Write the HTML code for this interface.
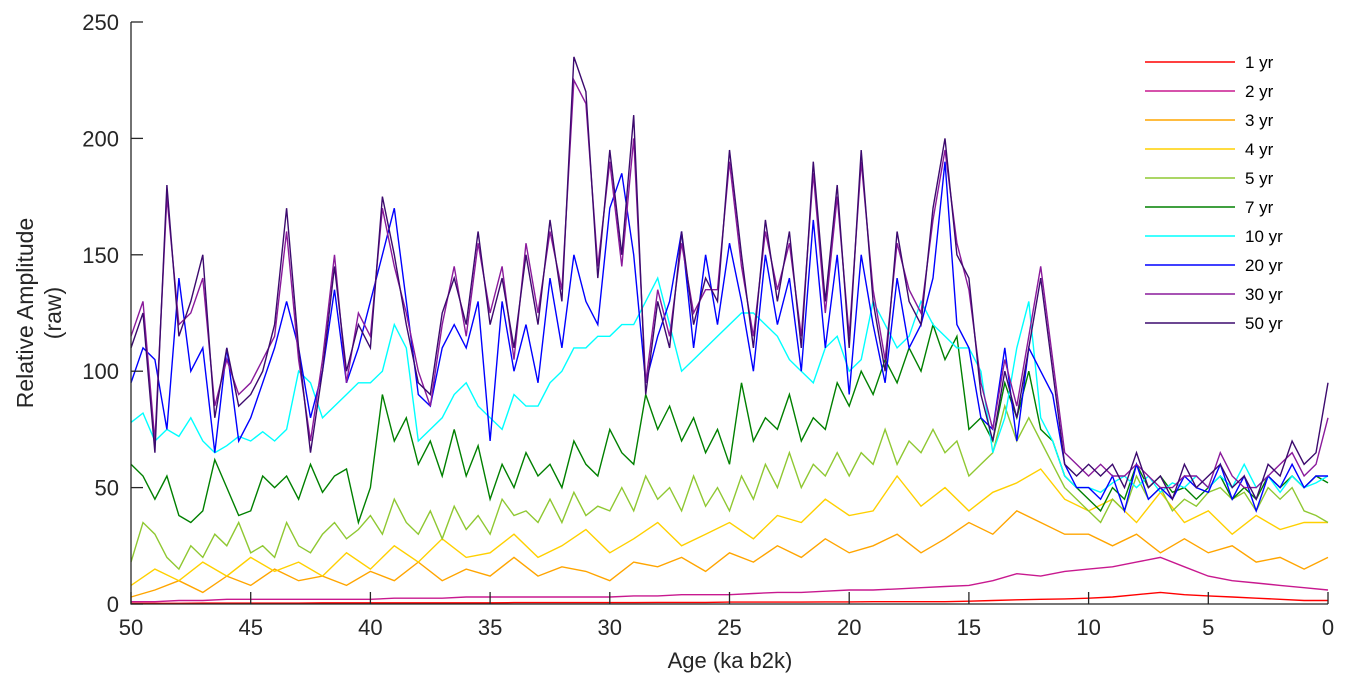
<!DOCTYPE html>
<html><head><meta charset="utf-8"><style>
body{margin:0;background:#fff;}
svg{font-family:"Liberation Sans",Arial,sans-serif;}
</style></head><body>
<svg id="chart" width="1350" height="689"></svg>
<script>
const agesFine=[];for(let i=0;i<=100;i++)agesFine.push(50-0.5*i);
const agesCoarse=[];for(let i=0;i<=50;i++)agesCoarse.push(50-i);
const yr50=[110,125,65,180,115,130,150,80,110,85,90,100,120,170,110,65,100,145,100,120,110,175,150,120,95,90,125,140,120,160,120,140,110,150,120,165,130,235,220,140,195,150,210,90,130,110,160,120,140,130,195,150,110,165,130,160,110,190,130,180,110,195,130,100,160,130,120,170,200,150,140,90,70,100,80,110,140,100,60,55,60,55,60,50,65,50,55,45,60,50,55,60,50,55,45,60,55,70,60,65,95];
const yr30=[115,130,70,175,120,125,140,85,105,90,95,105,115,160,105,70,105,150,95,125,115,170,145,125,100,85,120,145,115,155,125,145,105,155,125,160,135,225,215,145,190,145,200,95,135,115,155,125,135,135,190,145,115,160,135,155,115,185,125,175,115,190,135,105,155,135,125,165,195,155,135,95,75,105,85,115,145,105,65,60,55,60,55,55,60,55,50,50,55,55,50,65,55,50,50,55,60,65,55,60,80];
const yr20=[95,110,105,75,140,100,110,65,110,70,80,95,110,130,110,80,100,135,95,110,130,150,170,130,90,85,110,120,110,130,70,130,100,120,95,140,110,150,130,120,170,185,150,95,115,130,160,110,150,120,155,130,100,150,120,140,100,165,110,150,90,150,120,95,140,110,120,140,190,120,110,80,75,110,70,110,100,90,60,50,50,45,55,40,60,45,50,45,55,50,48,60,45,55,40,55,50,60,50,55,55];
const yr10=[78,82,70,75,72,80,70,65,68,72,70,74,70,75,100,95,80,85,90,95,95,100,120,110,70,75,80,90,95,85,80,75,90,85,85,95,100,110,110,115,115,120,120,130,140,120,100,105,110,115,120,125,125,120,115,105,100,95,110,115,100,105,130,120,110,115,130,120,115,110,110,100,65,80,110,130,80,70,55,50,50,48,52,55,50,55,48,52,50,55,50,55,50,60,50,55,48,55,50,52,55];
const yr7=[60,55,45,55,38,35,40,62,50,38,40,55,50,55,45,60,48,55,58,35,50,90,70,80,60,70,55,75,55,68,45,60,50,65,55,60,50,70,60,55,75,65,60,90,75,85,70,80,65,75,60,95,70,80,75,90,70,80,75,95,85,100,90,105,95,110,100,120,105,115,75,80,70,95,80,100,75,70,55,50,45,40,50,45,60,50,55,48,50,45,50,55,45,50,45,55,50,55,50,55,52];
const yr5=[18,35,30,20,15,25,20,30,25,35,22,25,20,35,25,22,30,35,28,32,38,30,45,35,30,40,28,42,32,38,30,45,38,40,35,45,35,48,38,42,40,50,40,55,45,50,40,55,42,50,40,55,45,60,50,65,50,60,55,65,55,65,60,75,60,70,65,75,65,70,55,60,65,85,70,80,70,60,50,45,40,35,45,40,55,45,50,40,45,42,48,50,45,48,40,50,45,50,40,38,35];
const yr4=[8,15,10,18,12,20,14,18,12,22,15,25,18,28,20,22,30,20,25,32,22,28,35,25,30,35,28,38,35,45,38,40,55,42,50,40,48,52,58,45,40,45,35,48,35,40,30,38,32,35,35];
const yr3=[3,6,10,5,12,8,15,10,12,8,14,10,18,10,15,12,20,12,16,14,10,18,16,20,14,22,18,25,20,28,22,25,30,22,28,35,30,40,35,30,30,25,30,22,28,22,25,18,20,15,20];
const yr2=[1,1,1.5,1.5,2,2,2,2,2,2,2,2.5,2.5,2.5,3,3,3,3,3,3,3,3.5,3.5,4,4,4,4.5,5,5,5.5,6,6,6.5,7,7.5,8,10,13,12,14,15,16,18,20,16,12,10,9,8,7,6];
const yr1=[0.3,0.3,0.3,0.4,0.4,0.4,0.4,0.4,0.5,0.5,0.5,0.5,0.5,0.5,0.5,0.5,0.6,0.6,0.6,0.6,0.6,0.6,0.7,0.7,0.7,0.8,0.8,0.8,0.8,0.9,0.9,1,1,1,1,1.2,1.5,1.8,2,2.2,2.5,3,4,5,4,3.5,3,2.5,2,1.5,1.5];
const seriesNames=["1 yr","2 yr","3 yr","4 yr","5 yr","7 yr","10 yr","20 yr","30 yr","50 yr"];
const seriesColors=["#ff0000","#c8198f","#ffa500","#ffd000","#8fc832","#008000","#00ffff","#0000ff","#8a1a9b","#3c0a6e"];
const seriesData=[[agesCoarse,yr1],[agesCoarse,yr2],[agesCoarse,yr3],[agesCoarse,yr4],[agesFine,yr5],[agesFine,yr7],[agesFine,yr10],[agesFine,yr20],[agesFine,yr30],[agesFine,yr50]];
const xTicks=[50,45,40,35,30,25,20,15,10,5,0];
const yTicks=[0,50,100,150,200,250];

const NS="http://www.w3.org/2000/svg";
const svg=document.getElementById('chart');
const X0=131,X1=1328,Y0=604,Y1=22;
const xs=a=>X0+(50-a)/50*(X1-X0);
const ys=v=>Y0-v/250*(Y0-Y1);
function mk(t,attrs){const e=document.createElementNS(NS,t);for(const k in attrs)e.setAttribute(k,attrs[k]);svg.appendChild(e);return e;}

seriesData.forEach((s,si)=>{
  const pts=s[0].map((a,i)=>xs(a).toFixed(1)+","+ys(s[1][i]).toFixed(1)).join(" ");
  const p=mk('polyline',{points:pts,fill:'none',stroke:seriesColors[si],'stroke-width':1.4});
  
  
});
const ax=mk('path',{d:`M${X0},${Y1}V${Y0}H${X1}`,fill:'none',stroke:'#262626','stroke-width':1.3});


xTicks.forEach(t=>{
  mk('line',{x1:xs(t),x2:xs(t),y1:Y0,y2:Y0-12,stroke:'#262626','stroke-width':1.3});
  const tx=mk('text',{x:xs(t),y:Y0+31,'text-anchor':'middle','font-size':22,fill:'#262626'});
  tx.textContent=t;
  
  
});
yTicks.forEach(t=>{
  mk('line',{x1:X0,x2:X0+12,y1:ys(t),y2:ys(t),stroke:'#262626','stroke-width':1.3});
  const tx=mk('text',{x:X0-12,y:ys(t)+8,'text-anchor':'end','font-size':22,fill:'#262626'});
  tx.textContent=t;
  
  
});
const xt=mk('text',{x:730,y:668,'text-anchor':'middle','font-size':22,fill:'#262626'});
xt.textContent='Age (ka b2k)';


const yt=mk('text',{transform:'translate(33,313) rotate(-90)','text-anchor':'middle','font-size':23,fill:'#262626'});
yt.textContent='Relative Amplitude';


const yt2=mk('text',{transform:'translate(61,313) rotate(-90)','text-anchor':'middle','font-size':23,fill:'#262626'});
yt2.textContent='(raw)';


seriesNames.forEach((n,i)=>{
  const y=62+i*29;
  const g=mk('g',{});
  
  
  const l=document.createElementNS(NS,'line');
  l.setAttribute('x1',1145);l.setAttribute('x2',1235);l.setAttribute('y1',y);l.setAttribute('y2',y);
  l.setAttribute('stroke',seriesColors[i]);l.setAttribute('stroke-width',1.4);
  g.appendChild(l);
  const t=document.createElementNS(NS,'text');
  t.setAttribute('x',1245);t.setAttribute('y',y+6);t.setAttribute('font-size',17);t.setAttribute('fill','#000');
  t.textContent=n;g.appendChild(t);
});
</script>
</body></html>
